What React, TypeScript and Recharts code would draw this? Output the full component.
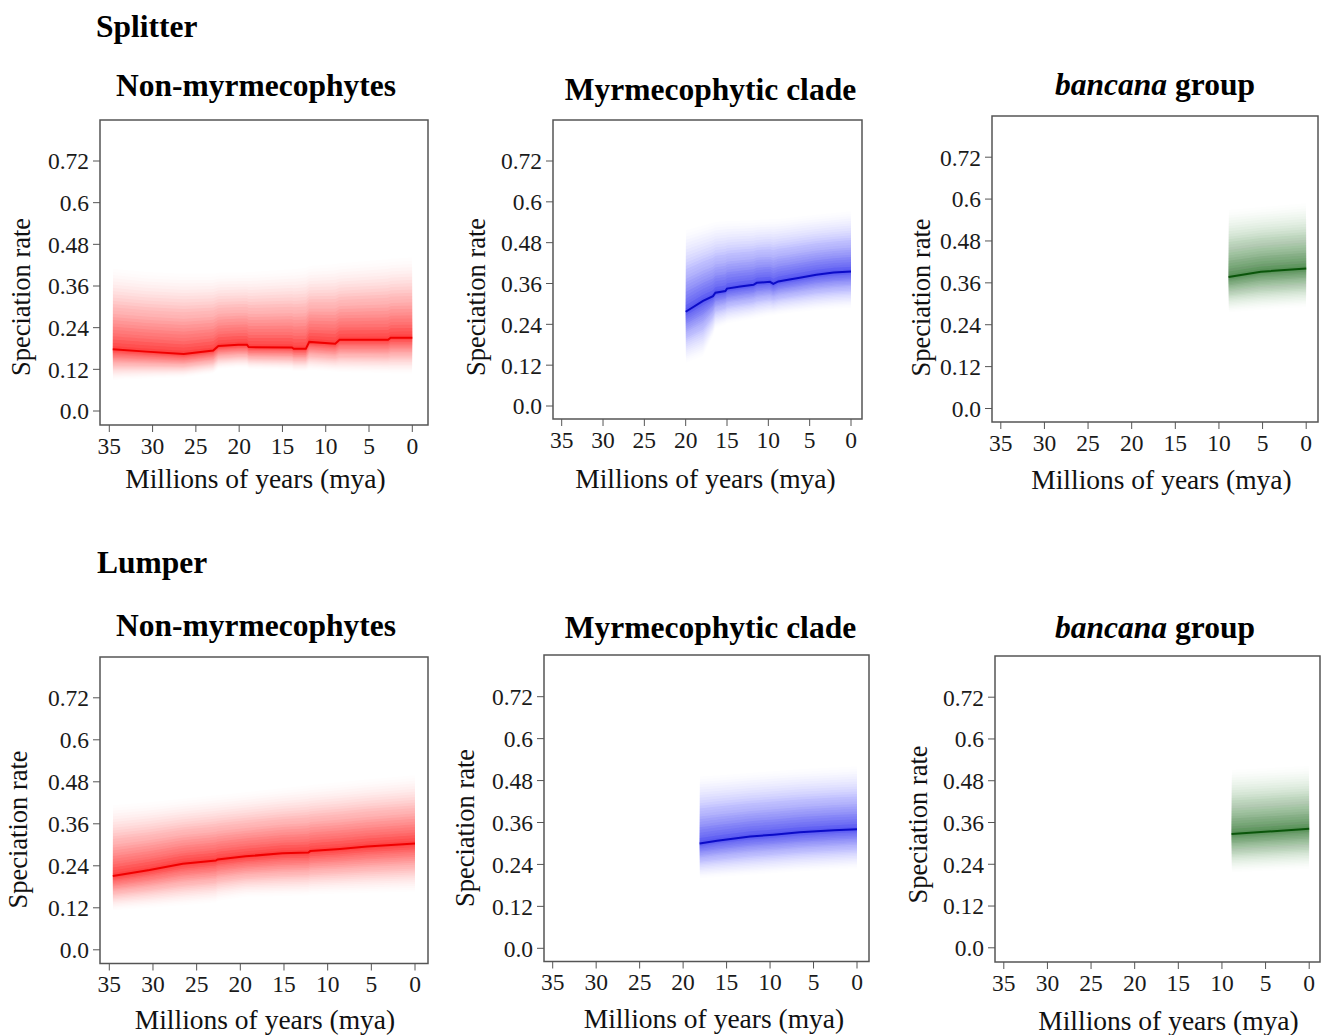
import React from "react";
import { Area, ComposedChart, Line, ReferenceArea, XAxis, YAxis } from "recharts";

const FONT = '"Liberation Serif", "Times New Roman", serif';

const yTicks = [0, 0.12, 0.24, 0.36, 0.48, 0.6, 0.72];
const yTickLabels = ["0.0", "0.12", "0.24", "0.36", "0.48", "0.6", "0.72"];
const xTicks = [35, 30, 25, 20, 15, 10, 5, 0];

// Splitter – non-myrmecophytes
const splitNonTime = [34.6, 30.7, 26.4, 23.0, 22.4, 20.1, 19.1, 18.9, 13.9, 13.7, 12.3, 11.9, 8.9, 8.4, 2.8, 2.5, 0];
const splitNonRate = [0.178, 0.171, 0.164, 0.174, 0.187, 0.191, 0.191, 0.184, 0.183, 0.179, 0.179, 0.199, 0.194, 0.205, 0.205, 0.211, 0.211];
const splitNonHigh = [0.42, 0.41, 0.405, 0.405, 0.407, 0.408, 0.409, 0.409, 0.418, 0.418, 0.423, 0.427, 0.433, 0.435, 0.447, 0.448, 0.452];
const splitNonLow = [0.085, 0.09, 0.094, 0.105, 0.118, 0.122, 0.122, 0.118, 0.115, 0.112, 0.112, 0.115, 0.11, 0.108, 0.105, 0.104, 0.104];

// Splitter – myrmecophytic clade
const splitMyrTime = [20, 17.9, 16.7, 16.4, 15.2, 15.0, 13.4, 11.8, 11.4, 9.8, 9.4, 8.8, 7.8, 6.2, 4.2, 2.1, 0];
const splitMyrRate = [0.277, 0.309, 0.323, 0.333, 0.338, 0.345, 0.351, 0.356, 0.362, 0.365, 0.359, 0.366, 0.37, 0.377, 0.386, 0.392, 0.395];
const splitMyrHigh = [0.527, 0.54, 0.548, 0.55, 0.552, 0.552, 0.553, 0.554, 0.555, 0.557, 0.557, 0.558, 0.56, 0.565, 0.57, 0.575, 0.58];
const splitMyrLow = [0.12, 0.14, 0.2, 0.223, 0.235, 0.238, 0.245, 0.252, 0.254, 0.262, 0.262, 0.265, 0.268, 0.272, 0.277, 0.281, 0.284];

// Splitter – bancana group
const splitBanTime = [8.9, 5.2, 0];
const splitBanRate = [0.377, 0.392, 0.401];
const splitBanHigh = [0.577, 0.585, 0.596];
const splitBanLow = [0.271, 0.278, 0.286];

// Lumper – non-myrmecophytes
const lumpNonTime = [34.6, 30.4, 26.6, 22.8, 22.6, 19.4, 15.2, 12.2, 12.0, 8.6, 5.5, 0];
const lumpNonRate = [0.211, 0.228, 0.246, 0.255, 0.258, 0.267, 0.276, 0.278, 0.282, 0.288, 0.295, 0.304];
const lumpNonHigh = [0.422, 0.43, 0.44, 0.45, 0.45, 0.458, 0.47, 0.478, 0.479, 0.487, 0.495, 0.507];
const lumpNonLow = [0.108, 0.115, 0.122, 0.13, 0.135, 0.146, 0.148, 0.15, 0.152, 0.155, 0.157, 0.16];

// Lumper – myrmecophytic clade
const lumpMyrTime = [18.1, 16.1, 12.3, 9.6, 6.6, 2.7, 0];
const lumpMyrRate = [0.3, 0.308, 0.32, 0.325, 0.332, 0.338, 0.341];
const lumpMyrHigh = [0.5, 0.503, 0.51, 0.515, 0.52, 0.525, 0.528];
const lumpMyrLow = [0.196, 0.199, 0.205, 0.21, 0.215, 0.22, 0.224];

// Lumper – bancana group
const lumpBanTime = [8.9, 0];
const lumpBanRate = [0.327, 0.342];
const lumpBanHigh = [0.519, 0.53];
const lumpBanLow = [0.212, 0.222];

const RED = { line: "#f00000", band: "#ff0000" };
const BLUE = { line: "#0b0bc8", band: "#1f1ff2" };
const GREEN = { line: "#0a550a", band: "#1f6e1f" };

// shading: nested layers between the median and the outer limits
const LAYERS = 26;
const fade = (d: number) => 0.72 * Math.pow(1 - d, 1.6);
const layerAlpha: number[] = [];
for (let k = 1; k <= LAYERS; k++) {
  const c = fade((k - 0.5) / LAYERS);
  const cNext = k < LAYERS ? fade((k + 0.5) / LAYERS) : 0;
  layerAlpha.push(1 - (1 - c) / (1 - cNext));
}

function buildRows(time: number[], rate: number[], high: number[], low: number[]) {
  return time.map((t, i) => {
    const row: Record<string, any> = { t, rate: rate[i] };
    for (let k = 1; k <= LAYERS; k++) {
      const f = k / LAYERS;
      row["b" + k] = [rate[i] - f * (rate[i] - low[i]), rate[i] + f * (high[i] - rate[i])];
    }
    return row;
  });
}

type Frame = {
  left: number; right: number; top: number; bottom: number;
  x35: number; x0: number; y72: number; y0: number;
  yLab: [number, number]; xLab: [number, number];
};

const ML = 100;
const MT = 10;
const MR = 10;
const MB = 90;

function Panel({ frame, rows, color, id }: { frame: Frame; rows: any[]; color: { line: string; band: string }; id: string }) {
  const w = frame.right - frame.left;
  const h = frame.bottom - frame.top;
  const upp = 35 / (frame.x0 - frame.x35);
  const xLeft = 35 + (frame.x35 - frame.left) * upp;
  const xRight = -(frame.right - frame.x0) * upp;
  const vpp = 0.72 / (frame.y0 - frame.y72);
  const yTop = 0.72 + (frame.y72 - frame.top) * vpp;
  const yBot = -(frame.bottom - frame.y0) * vpp;
  const ox = frame.left - ML;
  const oy = frame.top - MT;

  return (
    <div style={{ position: "absolute", left: ox, top: oy }}>
      <ComposedChart width={w + ML + MR} height={h + MT + MB} data={rows} margin={{ top: MT, right: MR, left: 0, bottom: 0 }}>
        <XAxis
          dataKey="t"
          type="number"
          domain={[xRight, xLeft]}
          reversed
          allowDataOverflow
          ticks={xTicks}
          interval={0}
          height={MB}
          tickSize={7}
          tickMargin={5}
          stroke="#555"
          axisLine={false}
          tick={{ fontSize: 23.5, fontFamily: FONT, fill: "#1a1a1a" }}
          label={{
            content: () => (
              <text x={frame.xLab[0] - ox} y={frame.xLab[1] - oy} textAnchor="middle" fontSize={27.5} fontFamily={FONT} fill="#111">
                Millions of years (mya)
              </text>
            ),
          }}
        />
        <YAxis
          type="number"
          domain={[yBot, yTop]}
          allowDataOverflow
          ticks={yTicks}
          interval={0}
          width={ML}
          tickSize={7}
          tickMargin={4}
          stroke="#555"
          axisLine={false}
          tickFormatter={(v: number) => yTickLabels[yTicks.indexOf(v)] ?? String(v)}
          tick={{ fontSize: 23.5, fontFamily: FONT, fill: "#1a1a1a" }}
          label={{
            content: () => (
              <text
                x={frame.yLab[0] - ox}
                y={frame.yLab[1] - oy}
                transform={`rotate(-90 ${frame.yLab[0] - ox} ${frame.yLab[1] - oy})`}
                textAnchor="middle"
                fontSize={26.5}
                fontFamily={FONT}
                fill="#111"
              >
                Speciation rate
              </text>
            ),
          }}
        />
        {layerAlpha.map((a, i) => (
          <Area
            key={id + i}
            dataKey={"b" + (i + 1)}
            type="linear"
            stroke="none"
            fill={color.band}
            fillOpacity={a}
            isAnimationActive={false}
            activeDot={false}
            dot={false}
          />
        ))}
        <Line dataKey="rate" type="linear" stroke={color.line} strokeWidth={2} dot={false} activeDot={false} isAnimationActive={false} />
        <ReferenceArea x1={xLeft} x2={xRight} y1={yBot} y2={yTop} fill="none" stroke="#555" strokeWidth={1.5} ifOverflow="visible" />
      </ComposedChart>
    </div>
  );
}

const frames: Frame[] = [
  { left: 100, right: 428, top: 120, bottom: 425, x35: 109.3, x0: 412.3, y72: 161, y0: 411, yLab: [30, 297], xLab: [255.5, 488] },
  { left: 553, right: 862, top: 120, bottom: 419, x35: 561.7, x0: 851, y72: 161, y0: 406, yLab: [485, 297], xLab: [705.5, 488] },
  { left: 991.5, right: 1317.5, top: 115.5, bottom: 421.5, x35: 1000.3, x0: 1305.7, y72: 156.7, y0: 408, yLab: [929, 297], xLab: [1161, 488] },
  { left: 100, right: 428, top: 656.5, bottom: 963, x35: 109.3, x0: 415, y72: 697.3, y0: 949.3, yLab: [27, 829], xLab: [265, 1028] },
  { left: 544, right: 869, top: 655, bottom: 961.5, x35: 552.7, x0: 857, y72: 696.7, y0: 948.3, yLab: [474, 828], xLab: [714, 1028] },
  { left: 994.5, right: 1319.5, top: 655.5, bottom: 961.5, x35: 1003.3, x0: 1308.7, y72: 696.7, y0: 947.3, yLab: [926, 824], xLab: [1168, 1029] },
];

const panels = [
  { id: "sn", rows: buildRows(splitNonTime, splitNonRate, splitNonHigh, splitNonLow), color: RED },
  { id: "sm", rows: buildRows(splitMyrTime, splitMyrRate, splitMyrHigh, splitMyrLow), color: BLUE },
  { id: "sb", rows: buildRows(splitBanTime, splitBanRate, splitBanHigh, splitBanLow), color: GREEN },
  { id: "ln", rows: buildRows(lumpNonTime, lumpNonRate, lumpNonHigh, lumpNonLow), color: RED },
  { id: "lm", rows: buildRows(lumpMyrTime, lumpMyrRate, lumpMyrHigh, lumpMyrLow), color: BLUE },
  { id: "lb", rows: buildRows(lumpBanTime, lumpBanRate, lumpBanHigh, lumpBanLow), color: GREEN },
];

function Titles() {
  const t = { fontFamily: FONT, fontWeight: 700, fontSize: 31.5, fill: "#000" } as const;
  return (
    <svg width={1324} height={1035} style={{ position: "absolute", left: 0, top: 0, pointerEvents: "none" }}>
      <text x={96} y={37} {...t}>Splitter</text>
      <text x={256} y={96} textAnchor="middle" {...t}>Non-myrmecophytes</text>
      <text x={710.5} y={100} textAnchor="middle" {...t}>Myrmecophytic clade</text>
      <text x={1155} y={95} textAnchor="middle" {...t}>
        <tspan fontStyle="italic">bancana</tspan> group
      </text>
      <text x={97} y={573} {...t}>Lumper</text>
      <text x={256} y={636} textAnchor="middle" {...t}>Non-myrmecophytes</text>
      <text x={710.5} y={638} textAnchor="middle" {...t}>Myrmecophytic clade</text>
      <text x={1155} y={638} textAnchor="middle" {...t}>
        <tspan fontStyle="italic">bancana</tspan> group
      </text>
    </svg>
  );
}

export default function App() {
  return (
    <div style={{ position: "absolute", left: 0, top: 0, width: 1324, height: 1035, background: "#fff", overflow: "hidden" }}>
      {panels.map((p, i) => (
        <Panel key={p.id} id={p.id} frame={frames[i]} rows={p.rows} color={p.color} />
      ))}
      <Titles />
    </div>
  );
}
